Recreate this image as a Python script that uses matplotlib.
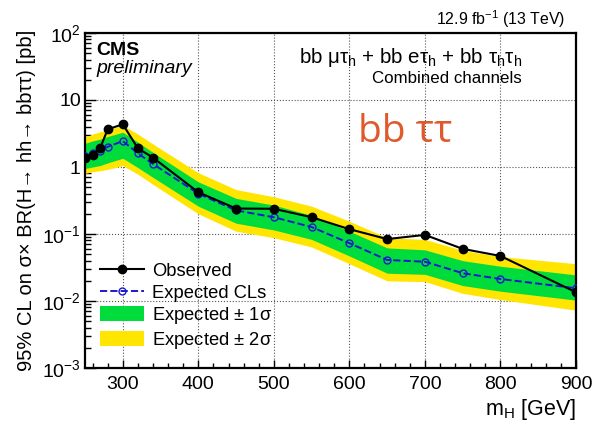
import numpy as np
import matplotlib
matplotlib.use('Agg')
import matplotlib.pyplot as plt
import matplotlib.ticker as mticker
from matplotlib.lines import Line2D
from matplotlib.patches import Patch

plt.rcParams['font.family'] = ['Liberation Sans', 'DejaVu Sans']
plt.rcParams['mathtext.fontset'] = 'custom'
plt.rcParams['mathtext.rm'] = 'Liberation Sans'
plt.rcParams['mathtext.it'] = 'Liberation Sans:italic'
plt.rcParams['mathtext.bf'] = 'Liberation Sans:bold'
plt.rcParams['mathtext.default'] = 'regular'

# ── data ─────────────────────────────────────────────────────────────────────
mass = [250, 260, 270, 280, 300, 320, 340, 400, 450, 500, 550, 600, 650, 700, 750, 800, 900]
observed = [1.35, 1.51, 1.9, 3.65, 4.34, 1.9, 1.38, 0.42, 0.24, 0.238, 0.178, 0.118,
            0.084, 0.097, 0.060, 0.047, 0.0135]
expected = [1.45, 1.6, 1.75, 2.0, 2.44, 1.6, 1.11, 0.40, 0.225, 0.178, 0.127, 0.073,
            0.041, 0.0386, 0.026, 0.0213, 0.0155]
exp_p1 = [2.25, 2.45, 2.6, 2.85, 3.3, 2.35, 1.65, 0.60, 0.34, 0.27, 0.19, 0.11,
          0.062, 0.058, 0.040, 0.033, 0.0245]
exp_m1 = [0.95, 1.0, 1.05, 1.15, 1.35, 0.98, 0.70, 0.26, 0.145, 0.115, 0.083, 0.047,
          0.026, 0.025, 0.017, 0.014, 0.0103]
exp_p2 = [2.8, 3.1, 3.35, 3.6, 4.2, 3.1, 2.2, 0.82, 0.46, 0.36, 0.26, 0.155,
          0.088, 0.083, 0.057, 0.046, 0.036]
exp_m2 = [0.80, 0.85, 0.88, 0.92, 1.05, 0.78, 0.55, 0.20, 0.11, 0.088, 0.064, 0.036,
          0.020, 0.0195, 0.0130, 0.0105, 0.0073]

green = '#00dc3c'
yellow = '#ffe500'

W, H = 594, 424
fig = plt.figure(figsize=(W / 100, H / 100), dpi=100)
ax = fig.add_axes([85 / W, 56 / H, 491 / W, 335 / H])

# grid sits under the bands, like in ROOT
ax.grid(True, which='major', ls=':', color='#555555', lw=0.8, zorder=0)
ax.set_axisbelow(True)

ax.fill_between(mass, exp_m2, exp_p2, color=yellow, lw=0, zorder=1)
ax.fill_between(mass, exp_m1, exp_p1, color=green, lw=0, zorder=2)
ax.plot(mass, expected, ls='--', color='#1a1acc', lw=1.4, marker='o', ms=5,
        mfc='none', mec='#1a1acc', mew=1.0, zorder=4)
ax.plot(mass, observed, '-', color='black', lw=1.5, marker='o', ms=6, zorder=5)

ax.set_yscale('log')
ax.set_xlim(250, 900)
ax.set_ylim(1e-3, 1e2)

ax.xaxis.set_major_locator(mticker.FixedLocator([300, 400, 500, 600, 700, 800, 900]))
ax.xaxis.set_minor_locator(mticker.MultipleLocator(20))
ax.yaxis.set_major_locator(mticker.LogLocator(base=10, numticks=10))
ax.yaxis.set_minor_locator(mticker.LogLocator(base=10, subs=np.arange(2, 10), numticks=20))
ax.yaxis.set_minor_formatter(mticker.NullFormatter())
ylab = {1e-3: '$10^{-3}$', 1e-2: '$10^{-2}$', 1e-1: '$10^{-1}$', 1: '1', 10: '10', 100: '$10^{2}$'}
ax.yaxis.set_major_formatter(mticker.FuncFormatter(
    lambda v, p: ylab.get(round(v, 6) if v < 1 else round(v), '')))

ax.tick_params(which='both', direction='in', top=False, right=False, labelsize=14)
ax.tick_params(axis='x', which='major', length=6, width=1, pad=6)
ax.tick_params(axis='x', which='minor', length=3.5, width=1)
ax.tick_params(axis='y', which='major', length=8, width=1, pad=3)
ax.tick_params(axis='y', which='minor', length=4, width=1)
for s in ax.spines.values():
    s.set_linewidth(1.6)

ax.set_ylabel('95% CL on σ× BR(H→ hh→ bbττ) [pb]', fontsize=14.5, labelpad=4)
ax.set_xlabel('m$_{H}$ [GeV]', fontsize=15.5, loc='right', labelpad=3)

# texts
fig.text(565 / W, 1 - 25 / H, '12.9 fb$^{-1}$ (13 TeV)', fontsize=11.4,
         ha='right', va='baseline')
fig.text(96 / W, 1 - 55 / H, 'CMS', fontsize=14, fontweight='bold', va='baseline')
fig.text(96 / W, 1 - 73 / H, 'preliminary', fontsize=14, style='italic', va='baseline')
fig.text(522 / W, 1 - 63 / H, r'bb $\mu\tau_{h}$ + bb e$\tau_{h}$ + bb $\tau_{h}\tau_{h}$',
         fontsize=14.8, ha='right', va='baseline')
fig.text(522 / W, 1 - 83 / H, 'Combined channels', fontsize=12.2, ha='right', va='baseline')
fig.text(358 / W, 1 - 142 / H, 'bb ττ', fontsize=28, color='#e0592a',
         family=['Open Sans', 'DejaVu Sans'], ha='left', va='baseline')

handles = [
    Line2D([], [], color='black', lw=1.5, marker='o', ms=6),
    Line2D([], [], color='#1a1acc', lw=1.4, ls='--', marker='o', ms=5, mfc='none'),
    Patch(facecolor=green, edgecolor='none'),
    Patch(facecolor=yellow, edgecolor='none'),
]
labels = ['Observed', 'Expected CLs', 'Expected $\\pm$ 1σ', 'Expected $\\pm$ 2σ']
ax.legend(handles, labels, loc='upper left', bbox_to_anchor=(100 / W, 1 - 262 / H),
          bbox_transform=fig.transFigure, frameon=False, fontsize=13.2,
          borderpad=0, borderaxespad=0, labelspacing=0.2, handlelength=2.4,
          handleheight=0.9, handletextpad=0.45)

plt.savefig('out.png', dpi=100)
